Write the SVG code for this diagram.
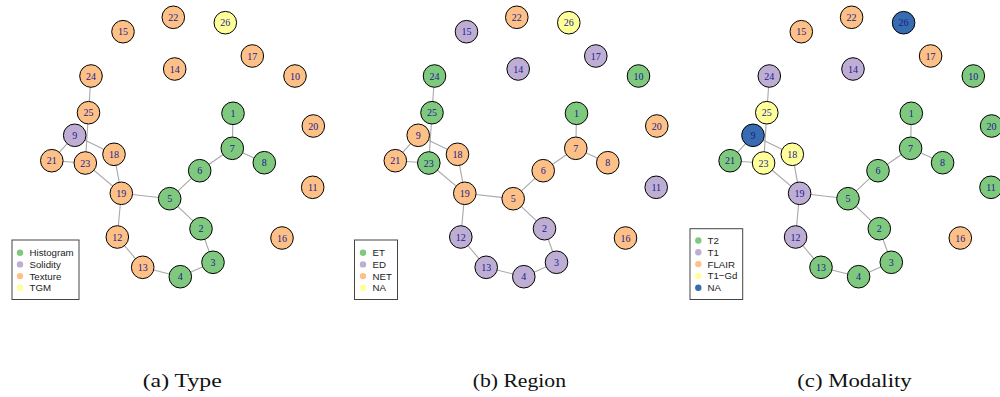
<svg xmlns="http://www.w3.org/2000/svg" width="1000" height="397" viewBox="0 0 1000 397">
<style>
.node circle{stroke:#000;stroke-width:1}
.node text{font-family:"Liberation Serif","Times New Roman",serif;font-size:10px;fill:#1a1a8e;text-anchor:middle}
.g{fill:#7FC97F}.p{fill:#BEAED4}.o{fill:#FDC086}.y{fill:#FFFF99}.b{fill:#386CB0}
.legend rect{fill:#fff;stroke:#444;stroke-width:1}
.legend text{font-family:"Liberation Sans",Arial,sans-serif;font-size:9.7px;fill:#222}
.cap{font-family:"Liberation Serif","Times New Roman",serif;font-size:18px;fill:#111}
</style>
<defs>
<g id="edgeset" stroke="#a8a8a8" stroke-width="1.1" fill="none">
<line x1="91" y1="76" x2="88.5" y2="112.7"/>
<line x1="88.5" y1="112.7" x2="85.3" y2="163"/>
<line x1="74.7" y1="135.3" x2="51.8" y2="160.7"/>
<line x1="74.7" y1="135.3" x2="114" y2="154.3"/>
<line x1="51.8" y1="160.7" x2="85.3" y2="163"/>
<line x1="85.3" y1="163" x2="121.3" y2="193.3"/>
<line x1="114" y1="154.3" x2="121.3" y2="193.3"/>
<line x1="121.3" y1="193.3" x2="169.7" y2="198.7"/>
<line x1="121.3" y1="193.3" x2="117.3" y2="237"/>
<line x1="117.3" y1="237" x2="142.7" y2="267.3"/>
<line x1="142.7" y1="267.3" x2="180.3" y2="276.7"/>
<line x1="180.3" y1="276.7" x2="213" y2="262.3"/>
<line x1="213" y1="262.3" x2="201" y2="228.7"/>
<line x1="201" y1="228.7" x2="169.7" y2="198.7"/>
<line x1="169.7" y1="198.7" x2="199.7" y2="170.7"/>
<line x1="199.7" y1="170.7" x2="232.3" y2="148.3"/>
<line x1="232.3" y1="148.3" x2="233" y2="113.3"/>
<line x1="232.3" y1="148.3" x2="264.3" y2="162.7"/>
</g>
</defs>
<g id="connectors">
<use href="#edgeset"/>
<use href="#edgeset" transform="translate(343.5,0)"/>
<use href="#edgeset" transform="translate(678.3,0)"/>
</g>

<!-- Panel a: Type -->
<g id="panel-a">
<g id="a-n22" class="node"><circle cx="173.3" cy="17.3" r="11.3" class="o"/><text x="173.3" y="20.8">22</text></g>
<g id="a-n26" class="node"><circle cx="225.3" cy="22.7" r="11.3" class="y"/><text x="225.3" y="26.2">26</text></g>
<g id="a-n15" class="node"><circle cx="123" cy="31.7" r="11.3" class="o"/><text x="123" y="35.2">15</text></g>
<g id="a-n17" class="node"><circle cx="252.3" cy="56" r="11.3" class="o"/><text x="252.3" y="59.5">17</text></g>
<g id="a-n14" class="node"><circle cx="174.7" cy="69" r="11.3" class="o"/><text x="174.7" y="72.5">14</text></g>
<g id="a-n24" class="node"><circle cx="91" cy="76" r="11.3" class="o"/><text x="91" y="79.5">24</text></g>
<g id="a-n10" class="node"><circle cx="295" cy="76" r="11.3" class="o"/><text x="295" y="79.5">10</text></g>
<g id="a-n25" class="node"><circle cx="88.5" cy="112.7" r="11.3" class="o"/><text x="88.5" y="116.2">25</text></g>
<g id="a-n1" class="node"><circle cx="233" cy="113.3" r="11.3" class="g"/><text x="233" y="116.8">1</text></g>
<g id="a-n20" class="node"><circle cx="313.3" cy="126" r="11.3" class="o"/><text x="313.3" y="129.5">20</text></g>
<g id="a-n9" class="node"><circle cx="74.7" cy="135.3" r="11.3" class="p"/><text x="74.7" y="138.8">9</text></g>
<g id="a-n7" class="node"><circle cx="232.3" cy="148.3" r="11.3" class="g"/><text x="232.3" y="151.8">7</text></g>
<g id="a-n18" class="node"><circle cx="114" cy="154.3" r="11.3" class="o"/><text x="114" y="157.8">18</text></g>
<g id="a-n21" class="node"><circle cx="51.8" cy="160.7" r="11.3" class="o"/><text x="51.8" y="164.2">21</text></g>
<g id="a-n23" class="node"><circle cx="85.3" cy="163" r="11.3" class="o"/><text x="85.3" y="166.5">23</text></g>
<g id="a-n8" class="node"><circle cx="264.3" cy="162.7" r="11.3" class="g"/><text x="264.3" y="166.2">8</text></g>
<g id="a-n6" class="node"><circle cx="199.7" cy="170.7" r="11.3" class="g"/><text x="199.7" y="174.2">6</text></g>
<g id="a-n11" class="node"><circle cx="312.7" cy="187.3" r="11.3" class="o"/><text x="312.7" y="190.8">11</text></g>
<g id="a-n19" class="node"><circle cx="121.3" cy="193.3" r="11.3" class="o"/><text x="121.3" y="196.8">19</text></g>
<g id="a-n5" class="node"><circle cx="169.7" cy="198.7" r="11.3" class="g"/><text x="169.7" y="202.2">5</text></g>
<g id="a-n2" class="node"><circle cx="201" cy="228.7" r="11.3" class="g"/><text x="201" y="232.2">2</text></g>
<g id="a-n16" class="node"><circle cx="282" cy="238" r="11.3" class="o"/><text x="282" y="241.5">16</text></g>
<g id="a-n12" class="node"><circle cx="117.3" cy="237" r="11.3" class="o"/><text x="117.3" y="240.5">12</text></g>
<g id="a-n3" class="node"><circle cx="213" cy="262.3" r="11.3" class="g"/><text x="213" y="265.8">3</text></g>
<g id="a-n13" class="node"><circle cx="142.7" cy="267.3" r="11.3" class="o"/><text x="142.7" y="270.8">13</text></g>
<g id="a-n4" class="node"><circle cx="180.3" cy="276.7" r="11.3" class="g"/><text x="180.3" y="280.2">4</text></g>
</g>

<!-- Panel b: Region -->
<g id="panel-b" transform="translate(343.5,0)">
<g id="b-n22" class="node"><circle cx="173.3" cy="17.3" r="11.3" class="o"/><text x="173.3" y="20.8">22</text></g>
<g id="b-n26" class="node"><circle cx="225.3" cy="22.7" r="11.3" class="y"/><text x="225.3" y="26.2">26</text></g>
<g id="b-n15" class="node"><circle cx="123" cy="31.7" r="11.3" class="p"/><text x="123" y="35.2">15</text></g>
<g id="b-n17" class="node"><circle cx="252.3" cy="56" r="11.3" class="p"/><text x="252.3" y="59.5">17</text></g>
<g id="b-n14" class="node"><circle cx="174.7" cy="69" r="11.3" class="p"/><text x="174.7" y="72.5">14</text></g>
<g id="b-n24" class="node"><circle cx="91" cy="76" r="11.3" class="g"/><text x="91" y="79.5">24</text></g>
<g id="b-n10" class="node"><circle cx="295" cy="76" r="11.3" class="g"/><text x="295" y="79.5">10</text></g>
<g id="b-n25" class="node"><circle cx="88.5" cy="112.7" r="11.3" class="g"/><text x="88.5" y="116.2">25</text></g>
<g id="b-n1" class="node"><circle cx="233" cy="113.3" r="11.3" class="g"/><text x="233" y="116.8">1</text></g>
<g id="b-n20" class="node"><circle cx="313.3" cy="126" r="11.3" class="o"/><text x="313.3" y="129.5">20</text></g>
<g id="b-n9" class="node"><circle cx="74.7" cy="135.3" r="11.3" class="o"/><text x="74.7" y="138.8">9</text></g>
<g id="b-n7" class="node"><circle cx="232.3" cy="148.3" r="11.3" class="o"/><text x="232.3" y="151.8">7</text></g>
<g id="b-n18" class="node"><circle cx="114" cy="154.3" r="11.3" class="o"/><text x="114" y="157.8">18</text></g>
<g id="b-n21" class="node"><circle cx="51.8" cy="160.7" r="11.3" class="o"/><text x="51.8" y="164.2">21</text></g>
<g id="b-n23" class="node"><circle cx="85.3" cy="163" r="11.3" class="g"/><text x="85.3" y="166.5">23</text></g>
<g id="b-n8" class="node"><circle cx="264.3" cy="162.7" r="11.3" class="o"/><text x="264.3" y="166.2">8</text></g>
<g id="b-n6" class="node"><circle cx="199.7" cy="170.7" r="11.3" class="o"/><text x="199.7" y="174.2">6</text></g>
<g id="b-n11" class="node"><circle cx="312.7" cy="187.3" r="11.3" class="p"/><text x="312.7" y="190.8">11</text></g>
<g id="b-n19" class="node"><circle cx="121.3" cy="193.3" r="11.3" class="o"/><text x="121.3" y="196.8">19</text></g>
<g id="b-n5" class="node"><circle cx="169.7" cy="198.7" r="11.3" class="o"/><text x="169.7" y="202.2">5</text></g>
<g id="b-n2" class="node"><circle cx="201" cy="228.7" r="11.3" class="p"/><text x="201" y="232.2">2</text></g>
<g id="b-n16" class="node"><circle cx="282" cy="238" r="11.3" class="o"/><text x="282" y="241.5">16</text></g>
<g id="b-n12" class="node"><circle cx="117.3" cy="237" r="11.3" class="p"/><text x="117.3" y="240.5">12</text></g>
<g id="b-n3" class="node"><circle cx="213" cy="262.3" r="11.3" class="p"/><text x="213" y="265.8">3</text></g>
<g id="b-n13" class="node"><circle cx="142.7" cy="267.3" r="11.3" class="p"/><text x="142.7" y="270.8">13</text></g>
<g id="b-n4" class="node"><circle cx="180.3" cy="276.7" r="11.3" class="p"/><text x="180.3" y="280.2">4</text></g>
</g>

<!-- Panel c: Modality -->
<g id="panel-c" transform="translate(678.3,0)">
<g id="c-n22" class="node"><circle cx="173.3" cy="17.3" r="11.3" class="o"/><text x="173.3" y="20.8">22</text></g>
<g id="c-n26" class="node"><circle cx="225.3" cy="22.7" r="11.3" class="b"/><text x="225.3" y="26.2">26</text></g>
<g id="c-n15" class="node"><circle cx="123" cy="31.7" r="11.3" class="o"/><text x="123" y="35.2">15</text></g>
<g id="c-n17" class="node"><circle cx="252.3" cy="56" r="11.3" class="o"/><text x="252.3" y="59.5">17</text></g>
<g id="c-n14" class="node"><circle cx="174.7" cy="69" r="11.3" class="p"/><text x="174.7" y="72.5">14</text></g>
<g id="c-n24" class="node"><circle cx="91" cy="76" r="11.3" class="p"/><text x="91" y="79.5">24</text></g>
<g id="c-n10" class="node"><circle cx="295" cy="76" r="11.3" class="g"/><text x="295" y="79.5">10</text></g>
<g id="c-n25" class="node"><circle cx="88.5" cy="112.7" r="11.3" class="y"/><text x="88.5" y="116.2">25</text></g>
<g id="c-n1" class="node"><circle cx="233" cy="113.3" r="11.3" class="g"/><text x="233" y="116.8">1</text></g>
<g id="c-n20" class="node"><circle cx="313.3" cy="126" r="11.3" class="g"/><text x="313.3" y="129.5">20</text></g>
<g id="c-n9" class="node"><circle cx="74.7" cy="135.3" r="11.3" class="b"/><text x="74.7" y="138.8">9</text></g>
<g id="c-n7" class="node"><circle cx="232.3" cy="148.3" r="11.3" class="g"/><text x="232.3" y="151.8">7</text></g>
<g id="c-n18" class="node"><circle cx="114" cy="154.3" r="11.3" class="y"/><text x="114" y="157.8">18</text></g>
<g id="c-n21" class="node"><circle cx="51.8" cy="160.7" r="11.3" class="g"/><text x="51.8" y="164.2">21</text></g>
<g id="c-n23" class="node"><circle cx="85.3" cy="163" r="11.3" class="y"/><text x="85.3" y="166.5">23</text></g>
<g id="c-n8" class="node"><circle cx="264.3" cy="162.7" r="11.3" class="g"/><text x="264.3" y="166.2">8</text></g>
<g id="c-n6" class="node"><circle cx="199.7" cy="170.7" r="11.3" class="g"/><text x="199.7" y="174.2">6</text></g>
<g id="c-n11" class="node"><circle cx="312.7" cy="187.3" r="11.3" class="g"/><text x="312.7" y="190.8">11</text></g>
<g id="c-n19" class="node"><circle cx="121.3" cy="193.3" r="11.3" class="p"/><text x="121.3" y="196.8">19</text></g>
<g id="c-n5" class="node"><circle cx="169.7" cy="198.7" r="11.3" class="g"/><text x="169.7" y="202.2">5</text></g>
<g id="c-n2" class="node"><circle cx="201" cy="228.7" r="11.3" class="g"/><text x="201" y="232.2">2</text></g>
<g id="c-n16" class="node"><circle cx="282" cy="238" r="11.3" class="o"/><text x="282" y="241.5">16</text></g>
<g id="c-n12" class="node"><circle cx="117.3" cy="237" r="11.3" class="p"/><text x="117.3" y="240.5">12</text></g>
<g id="c-n3" class="node"><circle cx="213" cy="262.3" r="11.3" class="g"/><text x="213" y="265.8">3</text></g>
<g id="c-n13" class="node"><circle cx="142.7" cy="267.3" r="11.3" class="g"/><text x="142.7" y="270.8">13</text></g>
<g id="c-n4" class="node"><circle cx="180.3" cy="276.7" r="11.3" class="g"/><text x="180.3" y="280.2">4</text></g>
</g>

<!-- Legends -->
<g id="legend-a" class="legend">
<rect x="12" y="240" width="67" height="59.5"/>
<circle cx="20" cy="252.7" r="3.2" class="g"/><text x="29.5" y="256.2">Histogram</text>
<circle cx="20" cy="264.4" r="3.2" class="p"/><text x="29.5" y="267.9">Solidity</text>
<circle cx="20" cy="276.1" r="3.2" class="o"/><text x="29.5" y="279.6">Texture</text>
<circle cx="20" cy="287.8" r="3.2" class="y"/><text x="29.5" y="291.3">TGM</text>
</g>
<g id="legend-b" class="legend">
<rect x="354.5" y="240" width="43" height="59.5"/>
<circle cx="363" cy="252.7" r="3.2" class="g"/><text x="372.5" y="256.2">ET</text>
<circle cx="363" cy="264.4" r="3.2" class="p"/><text x="372.5" y="267.9">ED</text>
<circle cx="363" cy="276.1" r="3.2" class="o"/><text x="372.5" y="279.6">NET</text>
<circle cx="363" cy="287.8" r="3.2" class="y"/><text x="372.5" y="291.3">NA</text>
</g>
<g id="legend-c" class="legend">
<rect x="690" y="228.7" width="52.7" height="70.8"/>
<circle cx="698.3" cy="240.5" r="3.2" class="g"/><text x="707.5" y="244">T2</text>
<circle cx="698.3" cy="252.3" r="3.2" class="p"/><text x="707.5" y="255.8">T1</text>
<circle cx="698.3" cy="264.1" r="3.2" class="o"/><text x="707.5" y="267.6">FLAIR</text>
<circle cx="698.3" cy="275.9" r="3.2" class="y"/><text x="707.5" y="279.4">T1−Gd</text>
<circle cx="698.3" cy="287.7" r="3.2" class="b"/><text x="707.5" y="291.2">NA</text>
</g>

<!-- Captions -->
<text class="cap" x="142.7" y="386.7" textLength="79" lengthAdjust="spacingAndGlyphs">(a) Type</text>
<text class="cap" x="472.7" y="386.7" textLength="93.3" lengthAdjust="spacingAndGlyphs">(b) Region</text>
<text class="cap" x="797.3" y="386.7" textLength="114.4" lengthAdjust="spacingAndGlyphs">(c) Modality</text>
</svg>
